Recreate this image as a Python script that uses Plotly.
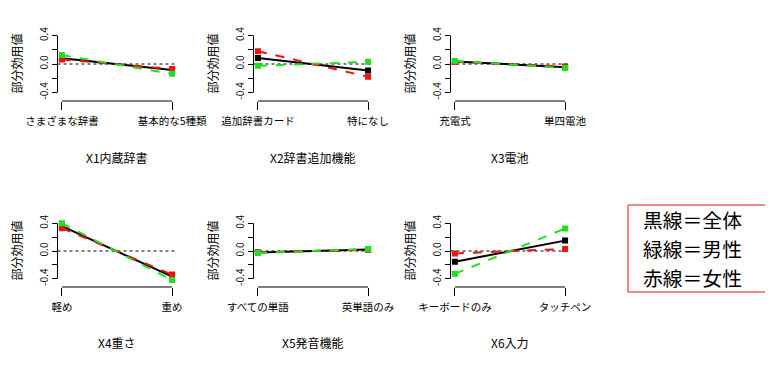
import plotly.graph_objects as go

# ---- data ----
attributes = ["X1内蔵辞書", "X2辞書追加機能", "X3電池", "X4重さ", "X5発音機能", "X6入力"]
level1 = ["さまざまな辞書", "追加辞書カード", "充電式", "軽め", "すべての単語", "キーボードのみ"]
level2 = ["基本的な5種類", "特になし", "単四電池", "重め", "英単語のみ", "タッチペン"]

overall_l1 = [0.08, 0.085, 0.035, 0.36, -0.02, -0.155]
overall_l2 = [-0.083, -0.09, -0.045, -0.37, 0.02, 0.15]
male_l1 = [0.125, -0.025, 0.042, 0.40, -0.03, -0.33]
male_l2 = [-0.138, 0.03, -0.055, -0.42, 0.03, 0.325]
female_l1 = [0.062, 0.18, 0.03, 0.33, -0.02, -0.035]
female_l2 = [-0.069, -0.18, -0.035, -0.34, 0.02, 0.03]

ytick_vals = [-0.4, -0.2, 0.0, 0.2, 0.4]
ytick_text = ["-0.4", "", "0.0", "", "0.4"]
ytitle = "部分効用値"
legend_lines = ["黒線＝全体", "緑線＝男性", "赤線＝女性"]

FONT = "Noto Sans CJK JP"
OFF = 8                      # default page body margin
W, H = 773 - OFF, 365 - OFF  # figure size so that the page is 773x365


def px(xp):
    return (xp - OFF) / W


def py(yp):
    return 1 - (yp - OFF) / H


col_px = [(57.5, 176.5), (253.5, 372.5), (450.5, 569.5)]
row_px = [(27, 101), (215, 287)]  # top, bottom in page pixels

fig = go.Figure()
shapes = []
annotations = []

GREEN, RED = "#22dd22", "#ee1111"
series = [
    (overall_l1, overall_l2, "black", "solid"),
    (female_l1, female_l2, RED, "dash"),
    (male_l1, male_l2, GREEN, "dash"),
]

for i in range(6):
    r, c = divmod(i, 3)
    ax = "" if i == 0 else str(i + 1)
    xa, ya = "x" + ax, "y" + ax
    x0p, x1p = col_px[c]
    t, b = row_px[r]
    xdom = [px(x0p), px(x1p)]
    ydom = [py(b), py(t)]
    for v1, v2, col, dash in series:
        fig.add_trace(go.Scatter(
            x=[1, 2], y=[v1[i], v2[i]], mode="lines+markers",
            line=dict(color=col, width=2, dash=dash),
            marker=dict(symbol="square", size=6, color=col),
            xaxis=xa, yaxis=ya, showlegend=False, hoverinfo="skip"))
    fig.layout["xaxis" + ax] = dict(
        domain=xdom, range=[0.96, 2.04], anchor=ya, automargin=False,
        tickvals=[1, 2], ticktext=[level1[i], level2[i]],
        ticks="outside", ticklen=8, tickcolor="black", tickwidth=1,
        ticklabelstandoff=2,
        showline=False, showgrid=False, zeroline=False,
        tickfont=dict(family=FONT, size=10.5, color="black"))
    fig.layout["yaxis" + ax] = dict(
        domain=ydom, range=[-0.52, 0.52], anchor=xa, automargin=False,
        tickvals=ytick_vals, ticktext=ytick_text, tickangle=-90,
        ticks="outside", ticklen=5, tickcolor="black", tickwidth=1,
        showline=False, showgrid=False, zeroline=False,
        tickfont=dict(family=FONT, size=10, color="black"))
    # axis lines (R style, only over tick span)
    shapes.append(dict(type="line", xref=xa, yref=ya + " domain",
                       x0=1, x1=2, y0=0, y1=0, line=dict(color="black", width=1)))
    shapes.append(dict(type="line", xref=xa + " domain", yref=ya,
                       x0=0, x1=0, y0=-0.4, y1=0.4, line=dict(color="black", width=1)))
    # zero reference line
    shapes.append(dict(type="line", xref=xa + " domain", yref=ya,
                       x0=0, x1=1, y0=0, y1=0, layer="below",
                       line=dict(color="black", width=1, dash="dot")))
    # titles
    annotations.append(dict(text=attributes[i], xref="paper", yref="paper",
                            x=px((x0p + x1p) / 2), y=py(157 if r == 0 else 342),
                            showarrow=False, xanchor="center", yanchor="middle",
                            font=dict(family=FONT, size=12, color="black")))
    annotations.append(dict(text=ytitle, xref="paper", yref="paper", textangle=-90,
                            x=px(x0p - 42), y=py((t + b) / 2),
                            showarrow=False, xanchor="center", yanchor="middle",
                            font=dict(family=FONT, size=12, color="black")))

# legend box
shapes.append(dict(type="rect", xref="paper", yref="paper",
                   x0=px(628), x1=px(768), y0=py(292), y1=py(205),
                   line=dict(color=RED, width=1), fillcolor="white", layer="below"))
for k, txt in enumerate(legend_lines):
    annotations.append(dict(text=txt, xref="paper", yref="paper",
                            x=px(641), y=py([219.5, 248.5, 277.5][k]),
                            showarrow=False, xanchor="left", yanchor="middle",
                            font=dict(family=FONT, size=19.8, color="black")))

fig.update_layout(width=W, height=H, margin=dict(l=0, r=0, t=0, b=0, autoexpand=False),
                  paper_bgcolor="white", plot_bgcolor="white",
                  shapes=shapes, annotations=annotations, showlegend=False)
fig.write_html("out.html")
